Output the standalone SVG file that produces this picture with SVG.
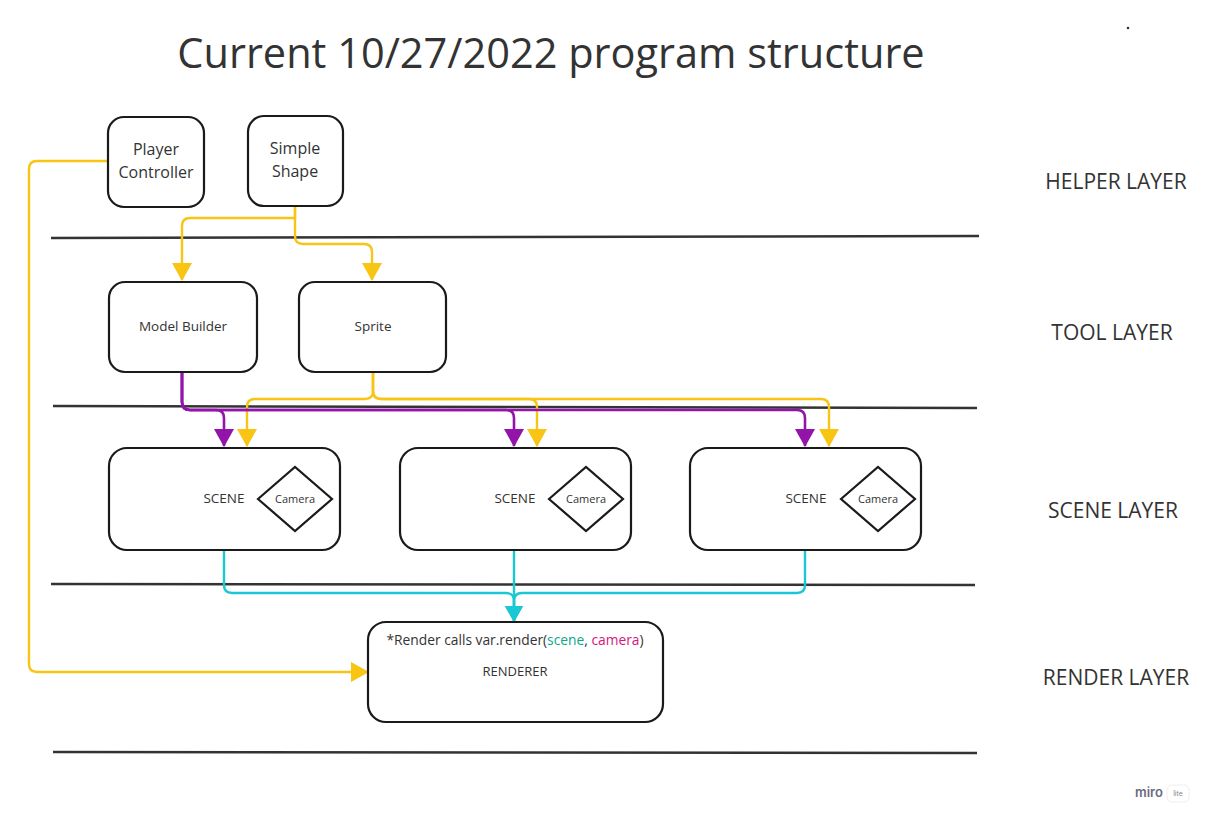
<svg xmlns="http://www.w3.org/2000/svg" width="1211" height="825" viewBox="0 0 1211 825">
<defs>
<style>
.box{fill:#fff;stroke:#1a1a1a;stroke-width:2.2}
.lay{stroke:#333;stroke-width:2.5;fill:none}
.t{font-family:"Open Sans","Liberation Sans",sans-serif;fill:#333;text-anchor:middle}
.y{stroke:#f8c514;stroke-width:2.4;fill:none}
.p{stroke:#9314a8;stroke-width:2.6;fill:none}
.c{stroke:#1ac8d3;stroke-width:2.4;fill:none}
</style>
<marker id="ay" markerUnits="userSpaceOnUse" markerWidth="18" markerHeight="20" viewBox="0 0 18 20" refX="17" refY="10" orient="auto"><path d="M0,0 L18,10 L0,20 z" fill="#f8c514"/></marker>
<marker id="ap" markerUnits="userSpaceOnUse" markerWidth="18" markerHeight="20" viewBox="0 0 18 20" refX="17" refY="10" orient="auto"><path d="M0,0 L18,10 L0,20 z" fill="#9314a8"/></marker>
<marker id="ac" markerUnits="userSpaceOnUse" markerWidth="16" markerHeight="18" viewBox="0 0 16 18" refX="15" refY="9" orient="auto"><path d="M0,0 L16,9 L0,18 z" fill="#1ac8d3"/></marker>
</defs>
<rect width="1211" height="825" fill="#fff"/>
<text class="t" x="551" y="68" font-size="41.5" fill="#222">Current 10/27/2022 program structure</text>
<circle cx="1128" cy="28" r="1.3" fill="#333"/>
<g id="layers">
<line class="lay" x1="51" y1="238" x2="979" y2="236"/>
<line class="lay" x1="53" y1="406" x2="977" y2="408"/>
<line class="lay" x1="51" y1="584" x2="975" y2="585"/>
<line class="lay" x1="53" y1="752" x2="977" y2="753"/>
<text class="t" x="1116" y="189" font-size="21">HELPER LAYER</text>
<text class="t" x="1112" y="340" font-size="21">TOOL LAYER</text>
<text class="t" x="1113" y="518" font-size="21">SCENE LAYER</text>
<text class="t" x="1116" y="685" font-size="21">RENDER LAYER</text>
</g>
<g id="connectors">
<path class="y" d="M295,207 V218 H190 Q182,218 182,226 V280" marker-end="url(#ay)"/>
<path class="y" d="M295,207 V236 Q295,244 303,244 H364 Q372,244 372,252 V280" marker-end="url(#ay)"/>
<path class="y" d="M108,161 H37 Q29,161 29,169 V664 Q29,672 37,672 H368" marker-end="url(#ay)"/>
<path class="y" d="M373,372 V391 Q373,399 365,399 H255 Q247,399 247,407 V446" marker-end="url(#ay)"/>
<path class="y" d="M373,372 V391 Q373,399 381,399 H529 Q537,399 537,407 V446" marker-end="url(#ay)"/>
<path class="y" d="M373,372 V391 Q373,399 381,399 H821 Q829,399 829,407 V446" marker-end="url(#ay)"/>
<path class="p" d="M182,372 V402 Q182,410 190,410 H216 Q224,410 224,418 V446" marker-end="url(#ap)"/>
<path class="p" d="M182,372 V402 Q182,410 190,410 H506 Q514,410 514,418 V446" marker-end="url(#ap)"/>
<path class="p" d="M182,372 V402 Q182,410 190,410 H797 Q805,410 805,418 V446" marker-end="url(#ap)"/>
<path class="c" d="M224,550 V585 Q224,593 232,593 H506 Q514,593 514,601 V621" marker-end="url(#ac)"/>
<path class="c" d="M514,550 V621" marker-end="url(#ac)"/>
<path class="c" d="M805,550 V585 Q805,593 797,593 H522 Q514,593 514,601 V621" marker-end="url(#ac)"/>
</g>
<g id="player-controller">
<rect class="box" x="108" y="117" width="96" height="90" rx="16"/>
<text class="t" x="156" y="155" font-size="16">Player</text>
<text class="t" x="156" y="178" font-size="16">Controller</text>
</g>
<g id="simple-shape">
<rect class="box" x="248" y="116" width="95" height="90" rx="16"/>
<text class="t" x="295" y="154" font-size="16">Simple</text>
<text class="t" x="295" y="177" font-size="16">Shape</text>
</g>
<g id="model-builder">
<rect class="box" x="109" y="282" width="148" height="90" rx="16"/>
<text class="t" x="183" y="331" font-size="13.5">Model Builder</text>
</g>
<g id="sprite">
<rect class="box" x="299" y="282" width="147" height="90" rx="16"/>
<text class="t" x="373" y="331" font-size="13.5">Sprite</text>
</g>
<g id="scene-1">
<rect class="box" x="109" y="448" width="231" height="102" rx="18"/>
<text class="t" x="224" y="503" font-size="13.5">SCENE</text>
<polygon class="box" points="258,499 295,467 332,499 295,531"/>
<text class="t" x="295" y="503" font-size="11">Camera</text>
</g>
<g id="scene-2">
<rect class="box" x="400" y="448" width="231" height="102" rx="18"/>
<text class="t" x="515" y="503" font-size="13.5">SCENE</text>
<polygon class="box" points="549,499 586,467 623,499 586,531"/>
<text class="t" x="586" y="503" font-size="11">Camera</text>
</g>
<g id="scene-3">
<rect class="box" x="690" y="448" width="231" height="102" rx="18"/>
<text class="t" x="806" y="503" font-size="13.5">SCENE</text>
<polygon class="box" points="841,499 878,467 915,499 878,531"/>
<text class="t" x="878" y="503" font-size="11">Camera</text>
</g>
<g id="renderer">
<rect class="box" x="368" y="622" width="295" height="100" rx="18"/>
<text class="t" x="515" y="645" font-size="13.8">*Render calls var.render(<tspan fill="#0ca789">scene</tspan>, <tspan fill="#d6157a">camera</tspan>)</text>
<text class="t" x="515" y="676" font-size="13">RENDERER</text>
</g>
<g id="miro">
<text x="1135" y="797" font-family="Inter,'Open Sans',sans-serif" font-size="13" font-weight="600" fill="#6a6a80">miro</text>
<rect x="1167" y="785" width="22" height="17" rx="5" fill="#fff" stroke="#eee"/>
<text x="1178" y="796" text-anchor="middle" font-family="Inter,'Open Sans',sans-serif" font-size="7" fill="#888">lite</text>
</g>
</svg>
